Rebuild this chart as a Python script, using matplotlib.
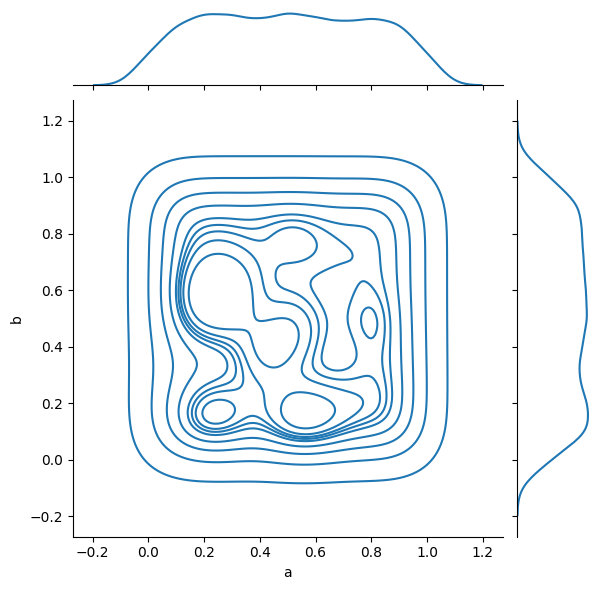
import numpy as np
import pandas as pd
import matplotlib
matplotlib.use("Agg")
import matplotlib.pyplot as plt
import seaborn as sns

# lattice of sample positions (same for a and b)
a_pos = [0.0, 0.1, 0.2, 0.3, 0.4, 0.5, 0.6, 0.7, 0.8, 0.9, 1.0]
b_pos = [1.0, 0.9, 0.8, 0.7, 0.6, 0.5, 0.4, 0.3, 0.2, 0.1, 0.0]

# relative density, rows = b from top (1.0) to bottom (0.0)
density = [
    [0.25, 0.5, 0.5, 0.5, 0.5, 0.5, 0.5, 0.5, 0.5, 0.5, 0.25],
    [0.5, 1.0, 1.0, 1.0, 1.0, 1.0, 1.0, 0.95, 1.0, 0.95, 0.5],
    [0.5, 1.0, 1.0, 1.0, 0.9, 1.2, 1.0, 0.95, 1.0, 0.95, 0.5],
    [0.5, 1.0, 1.15, 1.15, 1.0, 1.0, 1.05, 1.0, 1.0, 0.95, 0.5],
    [0.5, 1.05, 1.45, 1.5, 0.95, 0.9, 0.9, 0.9, 1.0, 0.95, 0.5],
    [0.5, 1.0, 1.35, 1.4, 0.7, 1.4, 1.0, 0.9, 1.25, 0.95, 0.5],
    [0.5, 0.8, 0.85, 0.7, 1.5, 1.35, 0.95, 0.85, 1.05, 1.0, 0.5],
    [0.5, 0.75, 0.8, 0.85, 1.15, 0.85, 0.85, 0.95, 1.0, 1.05, 0.5],
    [0.5, 0.9, 1.25, 1.15, 0.8, 1.3, 1.3, 1.1, 1.1, 1.05, 0.5],
    [0.5, 0.95, 1.35, 1.2, 0.95, 1.4, 1.4, 1.1, 1.05, 1.05, 0.5],
    [0.25, 0.5, 0.5, 0.5, 0.5, 0.55, 0.55, 0.5, 0.5, 0.5, 0.25],
]

aa, bb = np.meshgrid(a_pos, b_pos)
weights = np.array(density).ravel()
df = pd.DataFrame({"a": aa.ravel(), "b": bb.ravel()})

g = sns.jointplot(data=df, x="a", y="b", kind="kde", height=6,
                  joint_kws=dict(weights=weights, bw_method=0.285),
                  marginal_kws=dict(weights=weights, bw_method=0.205))
g.figure.savefig("out.png", dpi=100, bbox_inches="tight")
